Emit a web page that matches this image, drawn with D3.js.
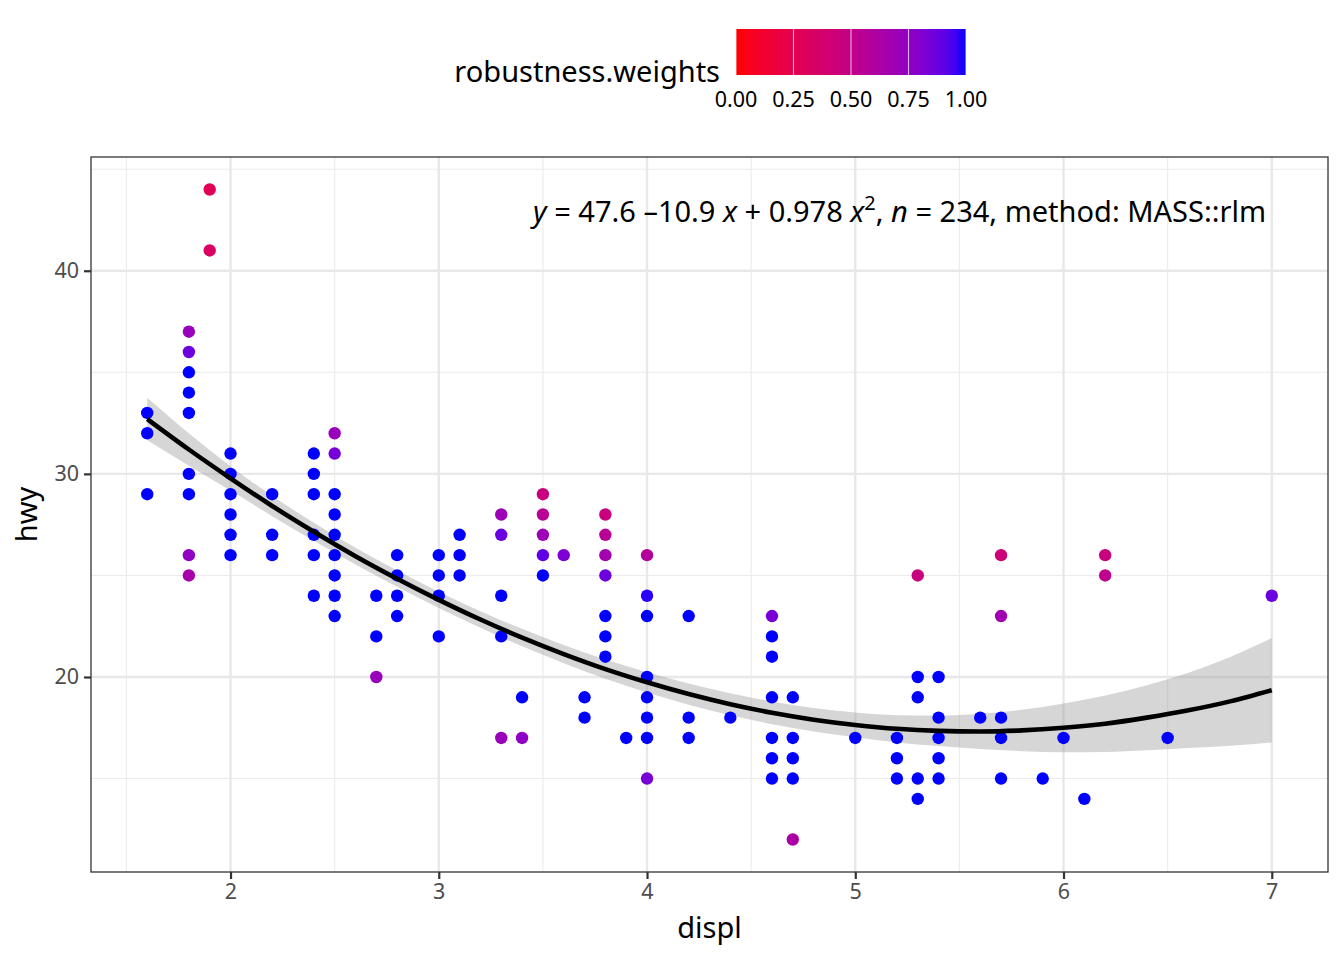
<!DOCTYPE html>
<html>
<head>
<meta charset="utf-8">
<script src="https://cdn.jsdelivr.net/npm/d3@7"></script>
<style>
  body { margin: 0; background: #fff; }
  svg { font-family: "Noto Sans", sans-serif; }
</style>
</head>
<body>
<div id="chart"></div>
<script>
// observed points (unique displ/hwy pairs) and their robustness weights
var displ = [1.6,1.6,1.6,
  1.8,1.8,1.8,1.8,1.8,1.8,1.8,1.8,1.8,
  1.9,1.9,
  2.0,2.0,2.0,2.0,2.0,2.0,
  2.2,2.2,2.2,
  2.4,2.4,2.4,2.4,2.4,2.4,
  2.5,2.5,2.5,2.5,2.5,2.5,2.5,2.5,2.5,
  2.7,2.7,2.7,
  2.8,2.8,2.8,2.8,
  3.0,3.0,3.0,3.0,
  3.1,3.1,3.1,
  3.3,3.3,3.3,3.3,3.3,
  3.4,3.4,
  3.5,3.5,3.5,3.5,3.5,
  3.6,
  3.7,3.7,
  3.8,3.8,3.8,3.8,3.8,3.8,3.8,
  3.9,
  4.0,4.0,4.0,4.0,4.0,4.0,4.0,4.0,
  4.2,4.2,4.2,
  4.4,
  4.6,4.6,4.6,4.6,4.6,4.6,4.6,
  4.7,4.7,4.7,4.7,4.7,
  5.0,
  5.2,5.2,5.2,
  5.3,5.3,5.3,5.3,5.3,
  5.4,5.4,5.4,5.4,5.4,
  5.6,
  5.7,5.7,5.7,5.7,5.7,
  5.9, 6.0, 6.1,
  6.2,6.2,
  6.5, 7.0];
var hwy = [33,32,29,
  37,36,35,34,33,30,29,26,25,
  44,41,
  31,30,29,28,27,26,
  29,27,26,
  31,30,29,27,26,24,
  32,31,29,28,27,26,25,24,23,
  24,22,20,
  26,25,24,23,
  26,25,24,22,
  27,26,25,
  28,27,24,22,17,
  19,17,
  29,28,27,26,25,
  26,
  19,18,
  28,27,26,25,23,22,21,
  17,
  26,24,23,20,19,18,17,15,
  23,18,17,
  18,
  23,22,21,19,17,16,15,
  19,17,16,15,12,
  17,
  17,16,15,
  25,20,19,15,14,
  20,18,17,16,15,
  18,
  26,23,18,17,15,
  15, 17, 14,
  26,25,
  17, 24];
var weights = [1,1,1,
  0.72,0.87,1,1,1,1,1,0.75,0.65,
  0.27,0.33,
  1,1,1,1,1,1,
  1,1,1,
  1,1,1,1,1,1,
  0.72,0.84,1,1,1,1,1,1,1,
  1,1,0.72,
  1,1,1,1,
  1,1,1,1,
  1,1,1,
  0.70,0.88,1,1,0.72,
  1,0.76,
  0.45,0.55,0.70,0.90,1,
  0.82,
  1,1,
  0.45,0.55,0.67,0.87,1,1,1,
  1,
  0.58,0.98,1,1,1,1,1,0.84,
  1,1,1,
  1,
  0.84,1,1,1,1,1,1,
  1,1,1,1,0.62,
  1,
  1,1,1,
  0.45,1,1,1,1,
  1,1,1,1,1,
  1,
  0.43,0.68,1,1,1,
  1, 1, 1,
  0.45,0.52,
  1, 0.88];

// fitted rlm curve and its confidence band (half width)
var fitX  = [1.6,1.8,2.0,2.2,2.4,2.6,2.8,3.0,3.2,3.4,3.6,3.8,4.0,4.2,4.4,4.6,4.8,5.0,5.2,5.4,5.6,5.8,6.0,6.2,6.4,6.6,6.8,7.0];
var fitY  = [32.7,31.2,29.78,28.42,27.15,25.95,24.84,23.8,22.83,21.94,21.13,20.39,19.74,19.16,18.66,18.24,17.9,17.64,17.45,17.35,17.32,17.37,17.5,17.7,18.0,18.36,18.8,19.35];
var fitSe = [1.05,0.8,0.6,0.5,0.44,0.41,0.4,0.4,0.41,0.43,0.45,0.47,0.5,0.52,0.54,0.56,0.58,0.61,0.67,0.75,0.87,1.02,1.2,1.39,1.6,1.85,2.18,2.57];

var xTicks = [2,3,4,5,6,7];
var yTicks = [20,30,40];
var xMinor = [1.5,2.5,3.5,4.5,5.5,6.5];
var yMinor = [15,25,35,45];
var legendTicks = [0,0.25,0.5,0.75,1];

var W = 1344, H = 960;
var margin = {top: 157, right: 16, bottom: 88, left: 91};
var width = W - margin.left - margin.right,
    height = H - margin.top - margin.bottom;

var svg = d3.select("#chart").append("svg")
  .attr("width", W).attr("height", H);

var g = svg.append("g")
  .attr("transform", "translate(" + margin.left + "," + margin.top + ")");

var x = d3.scaleLinear().domain([1.33, 7.27]).range([0, width]);
var y = d3.scaleLinear().domain([10.4, 45.6]).range([height, 0]);
var color = d3.scaleLinear().domain([0, 1]).range(["#FF0000", "#0000FF"])
  .interpolate(d3.interpolateLab);

// grid
g.selectAll(".xminor").data(xMinor).enter().append("line")
  .attr("x1", d => x(d)).attr("x2", d => x(d)).attr("y1", 0).attr("y2", height)
  .attr("stroke", "#ebebeb").attr("stroke-width", 1.1);
g.selectAll(".yminor").data(yMinor).enter().append("line")
  .attr("y1", d => y(d)).attr("y2", d => y(d)).attr("x1", 0).attr("x2", width)
  .attr("stroke", "#ebebeb").attr("stroke-width", 1.1);
g.selectAll(".xmajor").data(xTicks).enter().append("line")
  .attr("x1", d => x(d)).attr("x2", d => x(d)).attr("y1", 0).attr("y2", height)
  .attr("stroke", "#e8e8e8").attr("stroke-width", 2.4);
g.selectAll(".ymajor").data(yTicks).enter().append("line")
  .attr("y1", d => y(d)).attr("y2", d => y(d)).attr("x1", 0).attr("x2", width)
  .attr("stroke", "#e8e8e8").attr("stroke-width", 2.4);

// band + curve
var fit = fitX.map((d, i) => ({x: d, y: fitY[i], se: fitSe[i]}));
g.append("path").datum(fit)
  .attr("d", d3.area().curve(d3.curveMonotoneX)
    .x(d => x(d.x)).y0(d => y(d.y - d.se)).y1(d => y(d.y + d.se)))
  .attr("fill", "#999999").attr("fill-opacity", 0.4);

// points
var pts = displ.map((d, i) => ({x: d, y: hwy[i], w: weights[i]}));
g.selectAll("circle").data(pts).enter().append("circle")
  .attr("cx", d => x(d.x)).attr("cy", d => y(d.y)).attr("r", 6.2)
  .attr("fill", d => color(d.w));

g.append("path").datum(fit)
  .attr("d", d3.line().curve(d3.curveMonotoneX).x(d => x(d.x)).y(d => y(d.y)))
  .attr("fill", "none").attr("stroke", "#000").attr("stroke-width", 4.6);

// panel border
g.append("rect").attr("width", width).attr("height", height)
  .attr("fill", "none").attr("stroke", "#333333").attr("stroke-width", 1.3);

// axes
var xAxis = g.append("g").attr("transform", "translate(0," + height + ")")
  .call(d3.axisBottom(x).tickValues(xTicks).tickSize(7).tickPadding(5).tickFormat(d3.format("d")));
var yAxis = g.append("g")
  .call(d3.axisLeft(y).tickValues(yTicks).tickSize(7).tickPadding(5).tickFormat(d3.format("d")));
[xAxis, yAxis].forEach(function(a) {
  a.select(".domain").remove();
  a.selectAll("line").attr("stroke", "#333333").attr("stroke-width", 2.2);
  a.selectAll("text").attr("fill", "#4d4d4d").style("font-size", "21.5px")
    .style("font-family", "Noto Sans");
});

svg.append("text")
  .attr("x", margin.left + width / 2).attr("y", 938)
  .attr("text-anchor", "middle").style("font-size", "29px").text("displ");
svg.append("text")
  .attr("transform", "translate(37," + (margin.top + height / 2) + ") rotate(-90)")
  .attr("text-anchor", "middle").style("font-size", "29px").text("hwy");

// equation label
var eq = g.append("text")
  .attr("x", x(7.27) - 62).attr("y", 65)
  .attr("text-anchor", "end").style("font-size", "29px");
eq.append("tspan").style("font-style", "italic").text("y");
eq.append("tspan").text(" = 47.6 \u201310.9 ");
eq.append("tspan").style("font-style", "italic").text("x");
eq.append("tspan").text(" + 0.978 ");
eq.append("tspan").style("font-style", "italic").text("x");
eq.append("tspan").attr("dy", -12).style("font-size", "20px").text("2");
eq.append("tspan").attr("dy", 12).text(", ");
eq.append("tspan").style("font-style", "italic").text("n");
eq.append("tspan").text(" = 234, method: MASS::rlm");

// legend
var lx = 736, ly = 29, lw = 230, lh = 46;
var grad = svg.append("defs").append("linearGradient").attr("id", "cbar");
d3.range(0, 1.0001, 0.05).forEach(function(t) {
  grad.append("stop").attr("offset", t).attr("stop-color", color(t));
});
svg.append("rect").attr("x", lx).attr("y", ly).attr("width", lw).attr("height", lh)
  .attr("fill", "url(#cbar)");
var lscale = d3.scaleLinear().domain([0, 1]).range([lx, lx + lw]);
svg.selectAll(".ltick").data(legendTicks).enter().append("line")
  .attr("x1", d => lscale(d)).attr("x2", d => lscale(d))
  .attr("y1", ly).attr("y2", ly + lh)
  .attr("stroke", "#fff").attr("stroke-opacity", 0.7).attr("stroke-width", 1.1);
svg.selectAll(".llab").data(legendTicks).enter().append("text")
  .attr("x", d => lscale(d)).attr("y", 107)
  .attr("text-anchor", "middle").style("font-size", "21.5px")
  .text(d => d3.format(".2f")(d));
svg.append("text").attr("x", 720).attr("y", 82)
  .attr("text-anchor", "end").style("font-size", "29px").text("robustness.weights");
</script>
</body>
</html>
